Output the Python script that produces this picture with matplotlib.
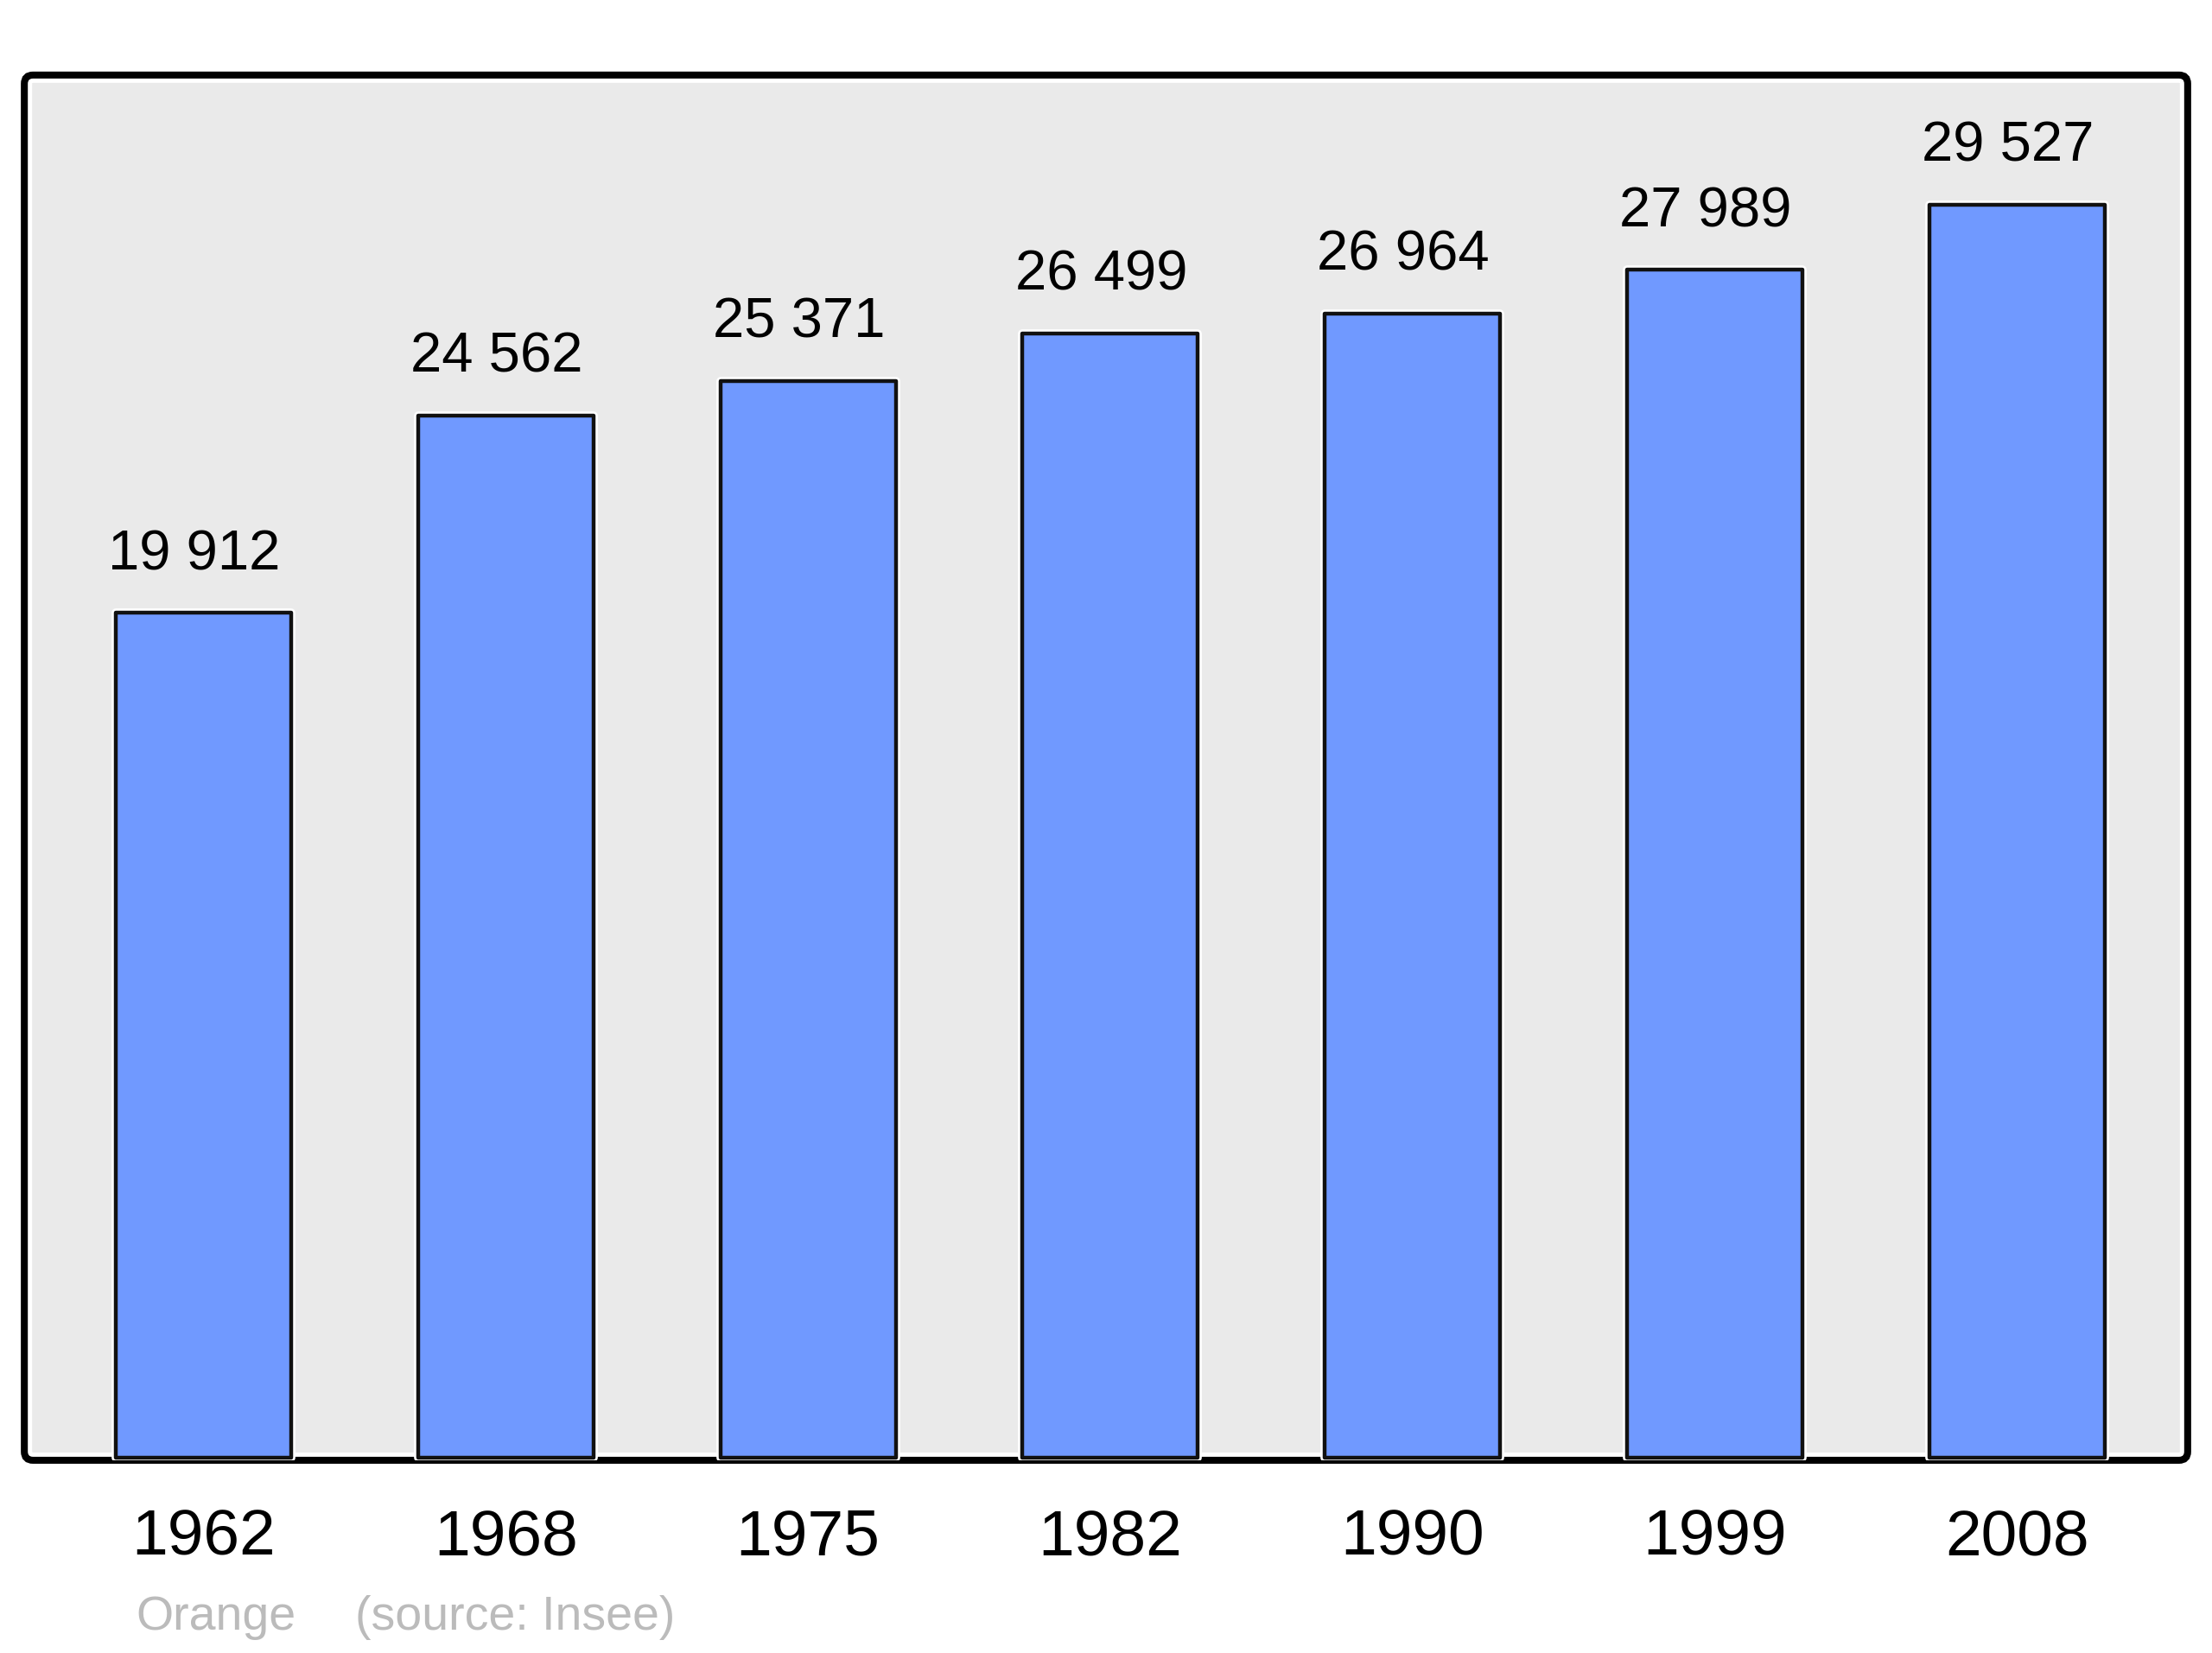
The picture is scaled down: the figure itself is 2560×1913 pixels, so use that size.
import matplotlib
matplotlib.use("Agg")
import matplotlib.pyplot as plt
from matplotlib.patches import FancyBboxPatch
import matplotlib.patheffects as pe

years = ["1962", "1968", "1975", "1982", "1990", "1999", "2008"]
population = [19912, 24562, 25371, 26499, 26964, 27989, 29527]

plt.rcParams["font.family"] = ["Liberation Sans", "DejaVu Sans"]

fig = plt.figure(figsize=(25.6, 19.13), dpi=100)
ax = fig.add_axes([0.011, 0.1166, 0.978, 0.838])
ax.patch.set_visible(False)
for s in ax.spines.values():
    s.set_visible(False)

# rounded frame with a thin white inner rim
for ec, lw in (("white", 13), ("black", 5.8)):
    frame = FancyBboxPatch((0, 0), 1, 1, boxstyle="round,pad=0,rounding_size=0.004",
                           mutation_aspect=1.56, transform=ax.transAxes,
                           facecolor="#EAEAEA" if ec == "white" else "none",
                           edgecolor=ec, linewidth=lw, zorder=0, clip_on=False)
    ax.add_patch(frame)

x = range(len(years))
bars = ax.bar(x, population, width=0.58, color="#7099FF", edgecolor="#111111",
              linewidth=3.2, zorder=2)
for b in bars:
    b.set_joinstyle("round")
    b.set_path_effects([pe.Stroke(linewidth=7, foreground="white"), pe.Normal()])

for i, v in enumerate(population):
    ax.annotate(f"{v:,}".replace(",", " "), (i - 0.03, v), xytext=(0, 36),
                textcoords="offset points", ha="center", va="baseline",
                fontsize=47, color="black", zorder=3)

ax.set_xlim(-0.593, 6.565)
ax.set_ylim(-60, 32580)
ax.set_yticks([])
ax.set_xticks(list(x))
ax.set_xticklabels(years, fontsize=54)
ax.tick_params(axis="x", length=0, pad=40)

fig.text(0.0613, 0.0141, "Orange", fontsize=40, color="#BBBBBB", va="baseline")
fig.text(0.1605, 0.0141, "(source: Insee)", fontsize=40, color="#BBBBBB", va="baseline")

fig.savefig("out.png", dpi=100, facecolor="white")
